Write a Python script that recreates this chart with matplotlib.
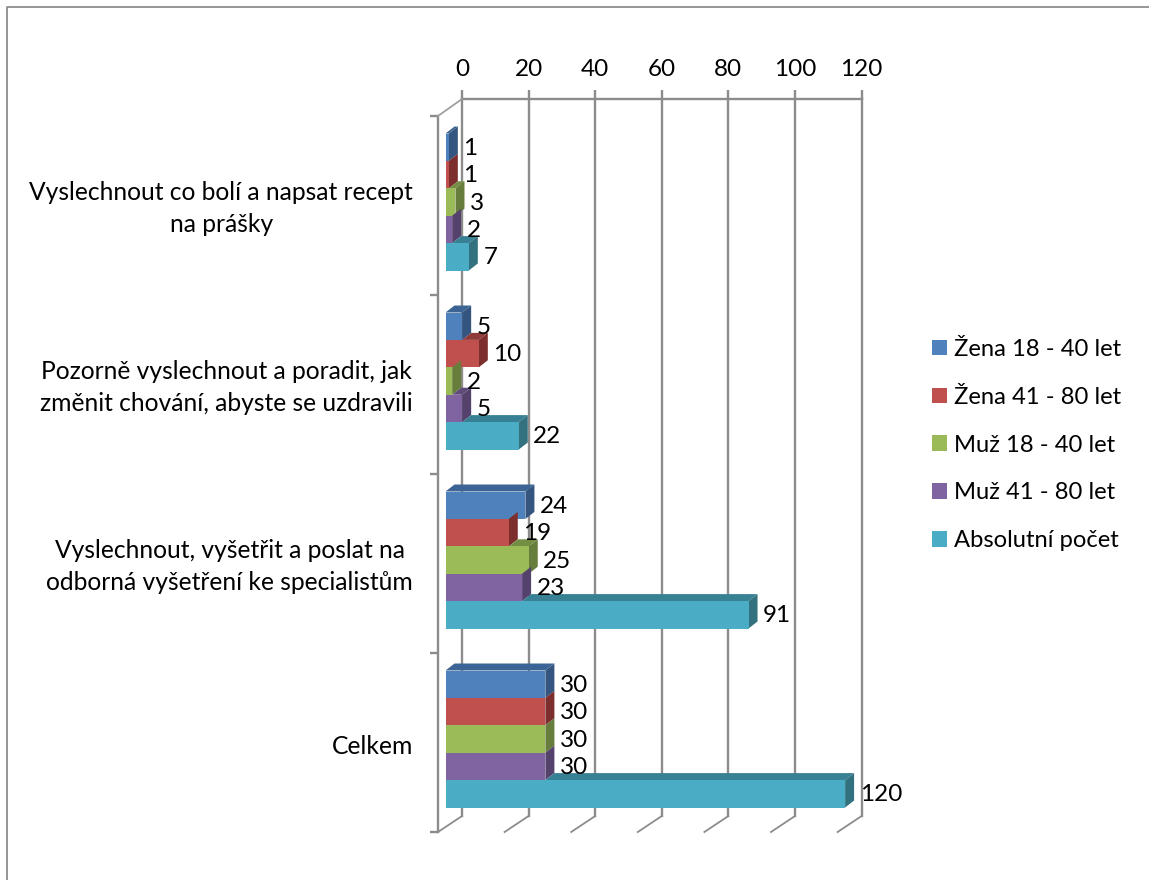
import matplotlib
matplotlib.use("Agg")
import matplotlib.pyplot as plt
from matplotlib.lines import Line2D
from matplotlib.patches import Patch, Polygon

# Survey counts per answer, top to bottom
categories = [
    "Vyslechnout co bolí a napsat recept\nna prášky",
    "Pozorně vyslechnout a poradit, jak\nzměnit chování, abyste se uzdravili",
    "Vyslechnout, vyšetřit a poslat na\nodborná vyšetření ke specialistům",
    "Celkem",
]
series_names = ["Žena 18 - 40 let", "Žena 41 - 80 let", "Muž 18 - 40 let",
                "Muž 41 - 80 let", "Absolutní počet"]
zena_18_40 = [1, 5, 24, 30]
zena_41_80 = [1, 10, 19, 30]
muz_18_40 = [3, 2, 25, 30]
muz_41_80 = [2, 5, 23, 30]
absolutni = [7, 22, 91, 120]
x_ticks = [0, 20, 40, 60, 80, 100, 120]

series = [zena_18_40, zena_41_80, muz_18_40, muz_41_80, absolutni]
front_cols = ["#4F81BD", "#C0504D", "#9BBB59", "#8064A2", "#4BACC6"]
side_cols = ["#34557F", "#7D2F2D", "#677D3B", "#54426C", "#33717F"]
top_cols = ["#3C6494", "#8F3B39", "#748E43", "#5F4A79", "#388094"]

W, H = 1149, 880
FONT = "Lato"
FS = 17.5
GRID = "#8C8C8C"
LW = 1.7
plt.rcParams["font.family"] = [FONT, "DejaVu Sans"]


def rect_px(left, top, right, bottom):
    """Axes rectangle from pixel edges measured from the top-left corner."""
    return [left / W, 1 - bottom / H, (right - left) / W, (bottom - top) / H]


fig = plt.figure(figsize=(W / 100, H / 100), dpi=100, facecolor="white")

# Outer chart frame, open towards the right and bottom
fig.add_artist(Line2D([6.5 / W, 6.5 / W, 1], [0, 1 - 7 / H, 1 - 7 / H],
                      transform=fig.transFigure, color="#8E8E8E", lw=1.3))

# Back wall: gridlines and value labels
wall = fig.add_axes(rect_px(462, 99, 861.6, 816))
wall.set_xlim(0, 120)
wall.set_ylim(0, 1)
wall.set_xticks(x_ticks)
wall.set_yticks([])
wall.xaxis.tick_top()
wall.tick_params(axis="x", length=6.5, width=LW, color=GRID, pad=7, labelsize=FS)
wall.grid(axis="x", color=GRID, lw=LW)
for gridline in wall.get_xgridlines():
    gridline.set_clip_on(False)
wall.set_axisbelow(True)
for name, spine in wall.spines.items():
    spine.set_visible(name == "top")
    spine.set_color(GRID)
    spine.set_linewidth(LW)

# Front edge of the floor: category axis with ticks between the groups.
# Two-line labels sit slightly higher than the single-line one.
label_nudge = [-0.017 if "\n" in c else 0.011 for c in categories]
front = fig.add_axes(rect_px(438, 116, 837.6, 832))
front.patch.set_alpha(0)
front.set_xlim(0, 120)
front.set_ylim(len(categories), 0)
front.set_xticks([])
front.set_yticks(range(len(categories) + 1))
front.set_yticklabels([])
front.set_yticks([i + 0.5 + n for i, n in enumerate(label_nudge)], labels=categories, minor=True)
front.tick_params(axis="y", which="major", length=6, width=LW, color=GRID)
front.tick_params(axis="y", which="minor", length=0, pad=18, labelsize=17.7)
for label in front.get_yticklabels(minor=True):
    label.set_multialignment("center")
    label.set_linespacing(1.46)
for name, spine in front.spines.items():
    spine.set_visible(name == "left")
    spine.set_color(GRID)
    spine.set_linewidth(LW)

# Diagonal floor and side-wall edges joining the two planes
for v in x_ticks:
    x_back = wall.transData.transform((v, 0))
    x_front = front.transData.transform((v, len(categories)))
    fig.add_artist(Line2D([x_back[0] / W, x_front[0] / W], [x_back[1] / H, x_front[1] / H],
                          transform=fig.transFigure, color=GRID, lw=1.3))
fig.add_artist(Line2D([462 / W, 438 / W], [1 - 99 / H, 1 - 116 / H],
                      transform=fig.transFigure, color="#A0A0A0", lw=1.3))

# Bar plane: front faces sit between the wall and the floor edge
ax = fig.add_axes(rect_px(445.5, 112.5, 845.1, 828.5))
ax.patch.set_alpha(0)
ax.set_xlim(0, 120)
ax.set_ylim(len(categories), 0)
ax.axis("off")

bar_h = 27.4 / 179
depth_x = 9 / (399.6 / 120)
depth_y = 7 / 179

for g in range(len(categories)):
    for s, values in enumerate(series):
        v = values[g]
        y0 = g + 0.5 + (s - 2.5) * bar_h
        y1 = y0 + bar_h
        z = 10 + g * 10 + s
        # The top face only shows where this bar reaches past the one stacked above it
        start = series[s - 1][g] if s else 0
        if v > start:
            ax.add_patch(Polygon([(start, y0), (v, y0), (v + depth_x, y0 - depth_y),
                                  (start + depth_x, y0 - depth_y)],
                                 facecolor=top_cols[s], edgecolor="none", zorder=z, clip_on=False))
        ax.add_patch(Polygon([(v, y0), (v, y1), (v + depth_x, y1 - depth_y), (v + depth_x, y0 - depth_y)],
                             facecolor=side_cols[s], edgecolor="none", zorder=z, clip_on=False))
        ax.barh(y0 + bar_h / 2, v, height=bar_h, color=front_cols[s], zorder=z + 0.5, clip_on=False)
        ax.annotate(str(v), (v, y0 + bar_h / 2), xytext=(14.5, -1), textcoords="offset pixels",
                    ha="left", va="center", fontsize=FS, color="black", zorder=200, annotation_clip=False)

handles = [Patch(facecolor=c, edgecolor="none") for c in front_cols]
fig.legend(handles, series_names, loc="center left", bbox_to_anchor=(932 / W, 1 - 445 / H),
           frameon=False, fontsize=17.1, handlelength=0.63, handleheight=0.63,
           handletextpad=0.3, labelspacing=1.13, borderpad=0, borderaxespad=0)

fig.savefig("out.png", dpi=100, facecolor="white")
